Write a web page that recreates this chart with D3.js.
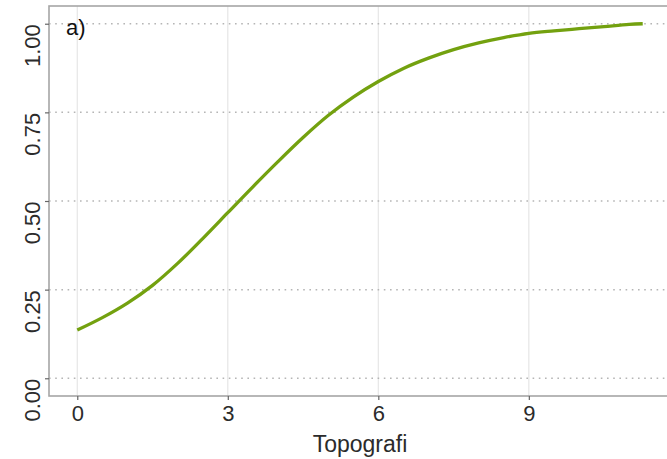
<!DOCTYPE html>
<html>
<head>
<meta charset="utf-8">
<script src="https://cdn.jsdelivr.net/npm/d3@7"></script>
<style>
  html, body { margin: 0; padding: 0; background: #fff; overflow: hidden; }
  svg { display: block; font-family: "Liberation Sans", Arial, Helvetica, sans-serif; }
</style>
</head>
<body>
<svg id="chart" width="667" height="459"></svg>
<script>
// Fitted effect of topography on the response (panel a)
const topografi = [0, 0.5, 1, 1.5, 2, 2.5, 3, 3.5, 4, 4.5, 5, 5.5, 6, 6.5, 7, 7.5, 8, 8.5, 9, 9.5, 10, 10.5, 11, 11.27];
const effect    = [0.136, 0.171, 0.212, 0.262, 0.324, 0.394, 0.467, 0.540, 0.611, 0.679, 0.741, 0.793, 0.837, 0.874, 0.903, 0.927, 0.946, 0.961, 0.973, 0.980, 0.986, 0.992, 0.998, 1.000];
const xTicks = [0, 3, 6, 9];
const yTicks = [0, 0.25, 0.5, 0.75, 1];
const xTitle = "Topografi";
const panelTag = "a)";

const svg = d3.select("#chart");
const panel = { left: 49, right: 671, top: 6, bottom: 396 };

const xMin = d3.min(topografi), xMax = d3.max(topografi);
const xPad = (xMax - xMin) * 0.05;
const x = d3.scaleLinear().domain([xMin - xPad, xMax + xPad]).range([panel.left, panel.right]);
const y = d3.scaleLinear().domain([-0.05, 1.05]).range([panel.bottom, panel.top]);

// vertical grid lines (solid, light)
svg.append("g").selectAll("line").data(xTicks).join("line")
  .attr("x1", d => x(d)).attr("x2", d => x(d))
  .attr("y1", panel.top).attr("y2", panel.bottom)
  .attr("stroke", "#e6e6e6").attr("stroke-width", 1.2);

// horizontal grid lines (dotted)
svg.append("g").selectAll("line").data(yTicks).join("line")
  .attr("x1", panel.left).attr("x2", panel.right)
  .attr("y1", d => y(d)).attr("y2", d => y(d))
  .attr("stroke", "#b5b5b5").attr("stroke-width", 1.5)
  .attr("stroke-dasharray", "1.6,4.6");

// fitted curve
const line = d3.line()
  .x((d, i) => x(topografi[i]))
  .y(d => y(d))
  .curve(d3.curveCatmullRom.alpha(0.5));
svg.append("path")
  .datum(effect)
  .attr("d", line)
  .attr("fill", "none")
  .attr("stroke", "#73a10f")
  .attr("stroke-width", 3.3)
  .attr("stroke-linecap", "butt");

// panel border
svg.append("rect")
  .attr("x", panel.left).attr("y", panel.top)
  .attr("width", panel.right - panel.left).attr("height", panel.bottom - panel.top)
  .attr("fill", "none").attr("stroke", "#a6a6a6").attr("stroke-width", 1.6);

// x axis
const xAxis = d3.axisBottom(x).tickValues(xTicks).tickFormat(d3.format("d")).tickSize(4).tickPadding(5);
const gx = svg.append("g").attr("transform", `translate(0,${panel.bottom})`).call(xAxis);
gx.select(".domain").remove();
gx.selectAll(".tick line").attr("stroke", "#666").attr("stroke-width", 1.2);
gx.selectAll(".tick text").attr("fill", "#2b2b2b").attr("font-size", 22)
  .attr("font-family", "Liberation Sans, Arial, sans-serif");

// y axis with labels rotated
const yAxis = d3.axisLeft(y).tickValues(yTicks).tickFormat(d3.format(".2f")).tickSize(4);
const gy = svg.append("g").attr("transform", `translate(${panel.left},0)`).call(yAxis);
gy.select(".domain").remove();
gy.selectAll(".tick line").attr("stroke", "#666").attr("stroke-width", 1.2);
gy.selectAll(".tick text")
  .attr("x", null).attr("dy", null)
  .attr("transform", "translate(-9,0) rotate(-90)")
  .attr("text-anchor", "end")
  .attr("fill", "#2b2b2b").attr("font-size", 22)
  .attr("font-family", "Liberation Sans, Arial, sans-serif");

// x axis title
svg.append("text")
  .attr("x", (panel.left + panel.right) / 2).attr("y", 452)
  .attr("text-anchor", "middle")
  .attr("font-size", 23).attr("fill", "#2b2b2b")
  .text(xTitle);

// panel tag
svg.append("text")
  .attr("x", 66).attr("y", 35)
  .attr("font-size", 22).attr("fill", "#111")
  .text(panelTag);
</script>
</body>
</html>
